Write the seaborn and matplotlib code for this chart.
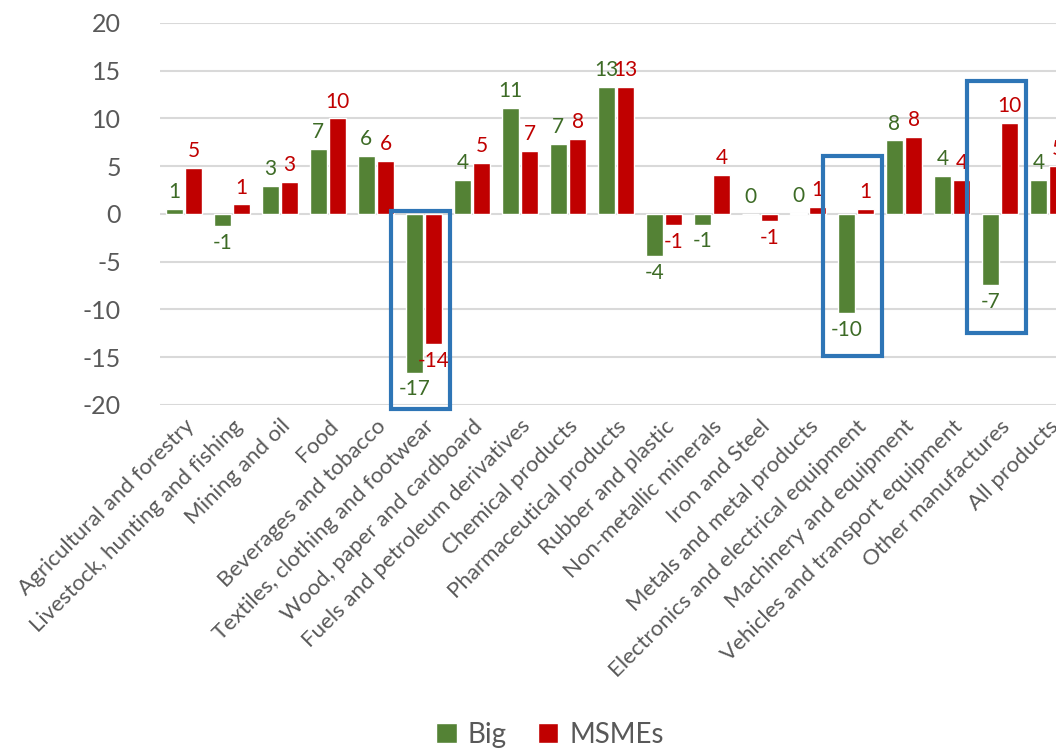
import numpy as np
import pandas as pd
import matplotlib
matplotlib.use("Agg")
import matplotlib.pyplot as plt
from matplotlib.patches import Rectangle
import seaborn as sns

categories = [
    "Agricultural and forestry", "Livestock, hunting and fishing", "Mining and oil",
    "Food", "Beverages and tobacco", "Textiles, clothing and footwear",
    "Wood, paper and cardboard", "Fuels and petroleum derivatives", "Chemical products",
    "Pharmaceutical products", "Rubber and plastic", "Non-metallic minerals",
    "Iron and Steel", "Metals and metal products", "Electronics and electrical equipment",
    "Machinery and equipment", "Vehicles and transport equipment", "Other manufactures",
    "All products",
]
big = [0.5, -1.3, 2.9, 6.8, 6.1, -16.6, 3.6, 11.1, 7.3, 13.3,
       -4.4, -1.1, 0.0, 0.1, -10.4, 7.7, 4.0, -7.4, 3.6]
msmes = [4.8, 1.0, 3.4, 10.0, 5.6, -13.6, 5.3, 6.6, 7.9, 13.3,
         -1.2, 4.1, -0.7, 0.7, 0.5, 8.1, 3.55, 9.5, 5.0]
series = ["Big", "MSMEs"]

# highlighted categories: (category, bottom, top)
highlights = [
    ("Textiles, clothing and footwear", -20.4, 0.3),
    ("Electronics and electrical equipment", -14.9, 6.1),
    ("Other manufactures", -12.5, 13.9),
]

df = pd.DataFrame({
    "category": categories * 2,
    "value": big + msmes,
    "series": ["Big"] * len(big) + ["MSMEs"] * len(msmes),
})

sns.set_style("white")
plt.rcParams["font.family"] = ["Lato", "DejaVu Sans"]
plt.rcParams["axes.unicode_minus"] = False

bar_colors = {"Big": "#548235", "MSMEs": "#c00000"}
label_colors = {"Big": "#3d6b26", "MSMEs": "#c00000"}
grey = "#595959"

fig = plt.figure(figsize=(10.56, 7.51), dpi=100)
ax = fig.add_axes([160 / 1056, 1 - 405 / 751, 912 / 1056, 382 / 751])

sns.barplot(data=df, x="category", y="value", hue="series", order=categories,
            hue_order=series, palette=bar_colors, width=0.8, gap=0.15,
            errorbar=None, ax=ax, saturation=1)

for cont, name in zip(ax.containers, series):
    vals = big if name == "Big" else msmes
    labels = [f"{np.floor(v + 0.5):.0f}" for v in vals]
    ax.bar_label(cont, labels=labels, padding=5, fontsize=15, color=label_colors[name])

ax.set_ylim(-20, 20)
ax.set_yticks(range(-20, 21, 5))
ax.set_xlim(-0.5, len(categories) - 0.5)
ax.yaxis.grid(True, color="#d9d9d9", linewidth=1.5)
ax.set_axisbelow(True)
for s in ax.spines.values():
    s.set_visible(False)
ax.set_xlabel("")
ax.set_ylabel("")
ax.tick_params(axis="y", labelsize=18, labelcolor=grey, length=0, pad=28)
ax.tick_params(axis="x", labelsize=16, labelcolor=grey, length=0, pad=8)
plt.setp(ax.get_xticklabels(), rotation=45, ha="right", rotation_mode="anchor")

for cat, lo, hi in highlights:
    i = categories.index(cat)
    ax.add_patch(Rectangle((i - 0.68, lo), 1.22, hi - lo, fill=False,
                           edgecolor="#2e75b6", linewidth=3, clip_on=False, zorder=5))

handles, labs = ax.get_legend_handles_labels()
ax.legend_.remove()
fig.legend(handles, labs, loc="center", bbox_to_anchor=(550 / 1056, 1 - 735 / 751),
           ncol=2, frameon=False, fontsize=20, labelcolor=grey,
           handlelength=0.75, handleheight=0.75, handletextpad=0.4, columnspacing=1.1)

fig.savefig("out.png", dpi=100)
